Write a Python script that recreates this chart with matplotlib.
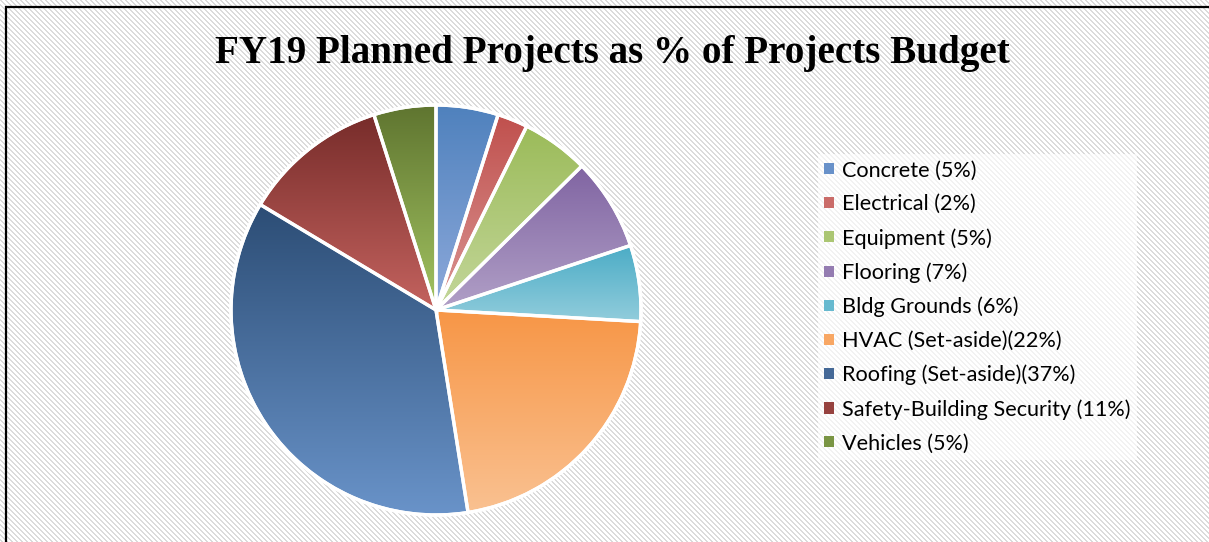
import numpy as np
import matplotlib
matplotlib.use("Agg")
import matplotlib.pyplot as plt
from matplotlib.patches import Patch
from matplotlib.colors import to_rgb

# ---- data ----
categories = ["Concrete (5%)", "Electrical (2%)", "Equipment (5%)", "Flooring (7%)",
              "Bldg Grounds (6%)", "HVAC (Set-aside)(22%)", "Roofing (Set-aside)(37%)",
              "Safety-Building Security (11%)", "Vehicles (5%)"]
values = [4.9, 2.4, 5.3, 7.3, 6.0, 21.6, 36.1, 11.5, 4.9]
top_colors = ["#4F81BD", "#C0504D", "#9BBB59", "#8064A2", "#4BACC6",
              "#F79646", "#2C4D75", "#772C2A", "#5F7530"]
bottom_colors = ["#8EAADB", "#DA9694", "#C4D79B", "#B1A0C7", "#92CDDC",
                 "#FAC191", "#6A94CA", "#C4635F", "#A3C462"]
title = "FY19 Planned Projects as % of Projects Budget"

W, H = 1209, 542
fig = plt.figure(figsize=(W / 100, H / 100), dpi=100)
ax = fig.add_axes([0, 0, 1, 1])

# pie
cx, cy, R = 436, H - 310, 205
wedges, _ = ax.pie(values, startangle=90, counterclock=False, center=(cx, cy), radius=R,
                   wedgeprops=dict(edgecolor="white", linewidth=2.4), frame=True)
ax.set_xlim(0, W)
ax.set_ylim(0, H)
ax.set_aspect("equal")
ax.axis("off")

# background diagonal stripes
yy, xx = np.mgrid[0:H, 0:W]
stripe = ((xx - yy) % 5) < 2
bg = np.ones((H, W, 3))
bg[stripe] = np.array([0.86, 0.86, 0.86])
ax.imshow(bg, extent=(0, W, 0, H), origin="upper", zorder=0, interpolation="nearest")

# border (left and top only visible)
ax.plot([5.5, 5.5], [0, H - 6], color="black", lw=1.6, zorder=1, solid_capstyle="butt")
ax.plot([5, W + 5], [H - 6.5, H - 6.5], color="black", lw=1.6, zorder=1, solid_capstyle="butt")

for w, c1, c2 in zip(wedges, top_colors, bottom_colors):
    w.set_facecolor("none")
    w.set_zorder(4)
    verts = w.get_patch_transform().transform(w.get_path().vertices)
    x0, x1 = verts[:, 0].min(), verts[:, 0].max()
    y0, y1 = verts[:, 1].min(), verts[:, 1].max()
    t = np.linspace(0, 1, 256)[:, None]
    a, b = np.array(to_rgb(c1)), np.array(to_rgb(c2))
    grad = (a[None, :] * (1 - t) + b[None, :] * t)[:, None, :]
    grad = np.repeat(grad, 2, axis=1)
    im = ax.imshow(grad, extent=(x0, x1, y0, y1), origin="upper", aspect="auto",
                   zorder=3, interpolation="bilinear")
    im.set_clip_path(w)

# outer white ring
ax.add_patch(plt.Circle((cx, cy), R, fill=False, edgecolor="white", linewidth=2.4, zorder=5))

ax.set_xlim(0, W)
ax.set_ylim(0, H)

# title
ax.text(612, H - 53, title, ha="center", va="center", fontsize=28.2, fontweight="bold",
        family="Liberation Serif", zorder=6)

# legend
mid_colors = []
for c1, c2 in zip(top_colors, bottom_colors):
    a, b = np.array(to_rgb(c1)), np.array(to_rgb(c2))
    mid_colors.append(tuple(a * 0.6 + b * 0.4))
handles = [Patch(facecolor=c, edgecolor="none") for c in mid_colors]
leg = ax.legend(handles, categories, loc="upper left",
                bbox_to_anchor=(818 / W, 1 - 154 / H), bbox_transform=fig.transFigure,
                prop=dict(family="Lato", size=15.6), frameon=True, fancybox=False,
                handlelength=0.42, handleheight=0.42, handletextpad=0.4,
                labelspacing=0.635, borderpad=0.3, borderaxespad=0)
leg.get_frame().set_facecolor("white")
leg.get_frame().set_alpha(0.65)
leg.get_frame().set_edgecolor("none")
leg.set_zorder(6)

fig.savefig("out.png", dpi=100)
